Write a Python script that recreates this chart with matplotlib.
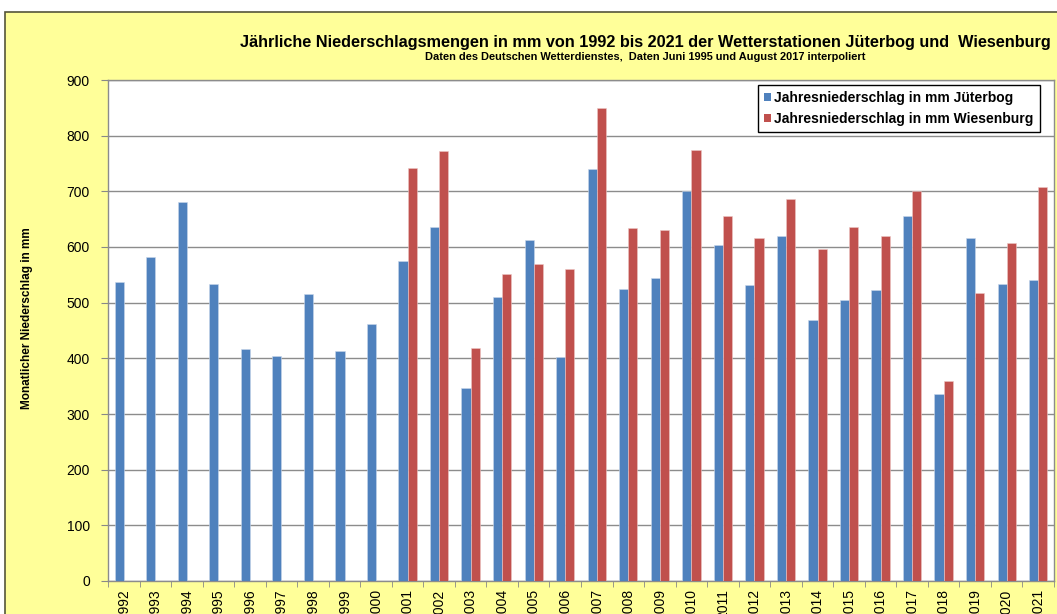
import numpy as np
import matplotlib
matplotlib.use("Agg")
import matplotlib.pyplot as plt
from matplotlib.patches import Rectangle, Patch

years = [str(y) for y in range(1992, 2022)]
jueterbog = [537, 582, 680, 534, 417, 405, 516, 413, 461, 575,
             636, 347, 511, 613, 403, 740, 524, 545, 700, 604,
             531, 620, 468, 505, 523, 655, 336, 616, 533, 541]
wiesenburg = [np.nan] * 9 + [742, 773, 419, 551, 569, 561, 850, 634, 630, 775, 656,
                             616, 687, 596, 636, 619, 701, 360, 518, 607, 708]
yticks = list(range(0, 1000, 100))

title = "Jährliche Niederschlagsmengen in mm von 1992 bis 2021 der Wetterstationen Jüterbog und  Wiesenburg"
subtitle = "Daten des Deutschen Wetterdienstes,  Daten Juni 1995 und August 2017 interpoliert"
ylabel = "Monatlicher Niederschlag in mm"
labels = ["Jahresniederschlag in mm Jüterbog", "Jahresniederschlag in mm Wiesenburg"]

plt.rcParams['font.family'] = ['Liberation Sans', 'DejaVu Sans']

W, H = 1057, 614
fig = plt.figure(figsize=(W / 100, H / 100), dpi=100, facecolor="white")
bg = Rectangle((4.5 / W, -0.05), 1.2, 1 - 12 / H + 0.05, transform=fig.transFigure,
               facecolor="#FFFF99", edgecolor="#55553a", linewidth=1.2, zorder=-10)
fig.patches.append(bg)

ax = fig.add_axes([108 / W, 33 / H, (1054 - 108) / W, (581 - 80) / H])
ax.set_zorder(5)
ax.set_facecolor("white")
x = np.arange(len(years))
bw = 0.29
blue = "#4F81BD"
red = "#C0504D"
ax.bar(x - bw / 2, jueterbog, bw, color=blue, edgecolor="#c9d7ea", linewidth=0.4, zorder=3)
ax.bar(x + bw / 2, wiesenburg, bw, color=red, edgecolor="#ecc6c5", linewidth=0.4, zorder=3)

ax.set_xlim(-0.5, len(years) - 0.5)
ax.set_ylim(0, 900)
ax.set_yticks(yticks)
ax.set_yticklabels([str(v) for v in yticks], fontsize=10)
ax.yaxis.grid(True, color="#8c8c8c", linewidth=1.0, zorder=1)
ax.set_axisbelow(True)
ax.set_xticks(x)
ax.set_xticklabels(years, rotation=90, fontsize=10, va="top")
ax.set_xticks(np.arange(-0.5, len(years), 1.0), minor=True)
ax.tick_params(axis="x", which="major", length=0, pad=6)
ax.tick_params(axis="x", which="minor", length=4, color="#888888")
ax.tick_params(axis="y", length=5, color="#888888", pad=8)
for s in ax.spines.values():
    s.set_color("#8c8c8c")
    s.set_linewidth(1.0)

fig.text(645 / W, 1 - 42 / H, title, ha="center", va="center", fontsize=11.7,
         fontweight="bold")
fig.text(645 / W, 1 - 57 / H, subtitle, ha="center", va="center", fontsize=7.9,
         fontweight="bold")
fig.text(27 / W, 1 - 318 / H, ylabel, ha="center", va="center", rotation=90,
         fontsize=8.5, fontweight="bold")

handles = [Patch(facecolor=blue), Patch(facecolor=red)]
leg = ax.legend(handles, labels, loc="upper right", bbox_to_anchor=(1040 / W, 1 - 85 / H),
                bbox_transform=fig.transFigure, fancybox=False, framealpha=1,
                edgecolor="black", prop={"weight": "bold", "size": 10},
                handlelength=0.5, handleheight=0.5, handletextpad=0.25,
                borderpad=0.45, labelspacing=0.45, borderaxespad=0)
leg.get_frame().set_linewidth(1.0)

fig.savefig("out.png", dpi=100, facecolor=fig.get_facecolor())
